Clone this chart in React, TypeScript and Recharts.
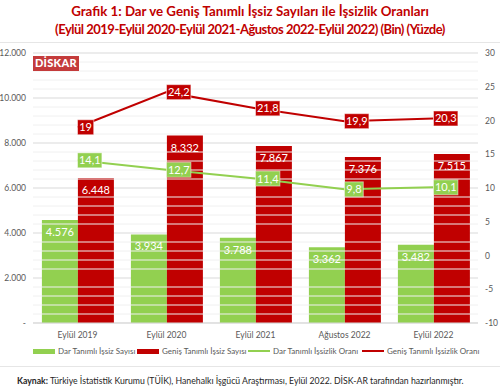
import React from 'react'
import { ComposedChart, Bar, Line, XAxis, YAxis, CartesianGrid, ReferenceLine, LabelList } from 'recharts'

const categories = ['Eylül 2019', 'Eylül 2020', 'Eylül 2021', 'Ağustos 2022', 'Eylül 2022']
const darSayi = [4576, 3934, 3788, 3362, 3482]
const genisSayi = [6448, 8332, 7867, 7376, 7515]
const darOran = [14.1, 12.7, 11.4, 9.8, 10.1]
const genisOran = [19, 24.2, 21.8, 19.9, 20.3]
const leftTicks = [0, 2000, 4000, 6000, 8000, 10000, 12000]
const rightTicks = [-10, -5, 0, 5, 10, 15, 20, 25, 30]

const GREEN = '#92d050'
const RED = '#c00000'
const FONT = 'Lato, "Noto Sans", sans-serif'

const data = categories.map((name, i) => ({
  name,
  darSayi: darSayi[i],
  genisSayi: genisSayi[i],
  darOran: darOran[i],
  genisOran: genisOran[i],
}))

// excel minor gridlines: major unit / 5
const minorLines: number[] = []
for (let v = 400; v < 12000; v += 400) if (v % 2000 !== 0) minorLines.push(v)

const fmtNum = (v: number) => (v === 0 ? '-' : String(v).replace(/\B(?=(\d{3})+(?!\d))/g, '.'))
const fmtPct = (v: number) => String(v).replace('.', ',')

const textW = (t: string) => t.split('').reduce((s, c) => s + (c === ',' ? 2.6 : 5.6), 0)

const rateLabel = (fill: string) => (props: any) => {
  const { x, y, value } = props
  const t = fmtPct(value)
  const w = textW(t) + 5
  return (
    <g>
      <rect x={x} y={y - 7.5} width={w} height={15} fill={fill} stroke="#ffffff" strokeOpacity={0.5} />
      <text x={x + w / 2} y={y + 4} textAnchor="middle" fill="#fff" fontSize={11} fontFamily={FONT}>
        {t}
      </text>
    </g>
  )
}

const barLabel = (props: any) => {
  const { x, y, width, value } = props
  return (
    <text x={x + width / 2} y={y + 16} textAnchor="middle" fill="#fff" fontSize={11} fontFamily={FONT}>
      {fmtNum(value)}
    </text>
  )
}

const legendItems = [
  { label: 'Dar Tanımlı İşsiz Sayısı', color: GREEN, type: 'bar', left: 33 },
  { label: 'Geniş Tanımlı İşsiz Sayısı', color: RED, type: 'bar', left: 137 },
  { label: 'Dar Tanımlı İşsizlik Oranı', color: GREEN, type: 'line', left: 248 },
  { label: 'Geniş Tanımlı İşsizlik Oranı', color: RED, type: 'line', left: 362 },
]

const axisTick = { fill: '#595959', fontSize: 8.5, fontFamily: FONT }

export default function App() {
  return (
    <div style={{ position: 'absolute', left: 0, top: 0, width: 500, height: 388, background: '#fff', fontFamily: FONT, overflow: 'hidden' }}>
      <ComposedChart
        width={500}
        height={388}
        data={data}
        margin={{ top: 53, right: 0, bottom: 45, left: 3 }}
        barCategoryGap="10%"
        barGap={0}
      >
        <CartesianGrid yAxisId="left" vertical={false} stroke="#d9d9d9" />
        {minorLines.map(v => (
          <ReferenceLine key={v} yAxisId="left" y={v} stroke="#f0f0f0" />
        ))}
        <XAxis
          dataKey="name"
          axisLine={{ stroke: '#d9d9d9' }}
          tickLine={false}
          tickSize={0}
          tick={axisTick}
          height={20}
          tickMargin={9}
        />
        <YAxis
          yAxisId="left"
          domain={[0, 12000]}
          ticks={leftTicks}
          tickFormatter={fmtNum}
          axisLine={false}
          tickLine={false}
          tickSize={0}
          width={30}
          tickMargin={7}
          tick={axisTick}
        />
        <YAxis
          yAxisId="right"
          orientation="right"
          domain={[-10, 30]}
          ticks={rightTicks}
          axisLine={false}
          tickLine={false}
          tickSize={0}
          width={22}
          tickMargin={7}
          tick={axisTick}
        />
        <Bar yAxisId="left" dataKey="darSayi" fill={GREEN} isAnimationActive={false}>
          <LabelList dataKey="darSayi" content={barLabel} />
        </Bar>
        <Bar yAxisId="left" dataKey="genisSayi" fill={RED} isAnimationActive={false}>
          <LabelList dataKey="genisSayi" content={barLabel} />
        </Bar>
        <Line yAxisId="right" dataKey="darOran" stroke={GREEN} strokeWidth={2} dot={false} isAnimationActive={false}>
          <LabelList dataKey="darOran" content={rateLabel(GREEN)} />
        </Line>
        <Line yAxisId="right" dataKey="genisOran" stroke={RED} strokeWidth={2} dot={false} isAnimationActive={false}>
          <LabelList dataKey="genisOran" content={rateLabel(RED)} />
        </Line>
      </ComposedChart>

      {/* title */}
      <div style={{ position: 'absolute', top: 2, left: 0, width: 500, textAlign: 'center', color: RED, fontWeight: 700, lineHeight: '18px' }}>
        <div style={{ fontSize: 13.3 }}>Grafik 1: Dar ve Geniş Tanımlı İşsiz Sayıları ile İşsizlik Oranları</div>
        <div style={{ fontSize: 13, letterSpacing: -0.5 }}>(Eylül 2019-Eylül 2020-Eylül 2021-Ağustos 2022-Eylül 2022) (Bin) (Yüzde)</div>
      </div>
      <div style={{ position: 'absolute', top: 42, left: 0, width: 500, height: 1, background: '#e6e6e6' }} />

      {/* logo */}
      <div style={{ position: 'absolute', top: 56, left: 33, width: 46, height: 15, background: '#c43b3b', color: '#fff', fontWeight: 900, fontSize: 11, lineHeight: '13px', textAlign: 'center', letterSpacing: 0.3 }}>
        DİSKAR
      </div>

      {/* legend */}
      {legendItems.map(it => (
        <div key={it.label} style={{ position: 'absolute', top: 346, left: it.left, display: 'flex', alignItems: 'center', fontSize: 8, color: '#595959', whiteSpace: 'nowrap' }}>
          <span style={{ display: 'inline-block', width: 22, height: it.type === 'bar' ? 5 : 2, background: it.color, marginRight: 3 }} />
          {it.label}
        </div>
      ))}
      <div style={{ position: 'absolute', top: 366, left: 0, width: 500, height: 1, background: '#e6e6e6' }} />

      {/* source */}
      <div style={{ position: 'absolute', top: 375, left: 17, fontSize: 8.7, color: '#262626', whiteSpace: 'nowrap' }}>
        <b>Kaynak:</b> Türkiye İstatistik Kurumu (TÜİK), Hanehalkı İşgücü Araştırması, Eylül 2022. DİSK-AR tarafından hazırlanmıştır.
      </div>
    </div>
  )
}
